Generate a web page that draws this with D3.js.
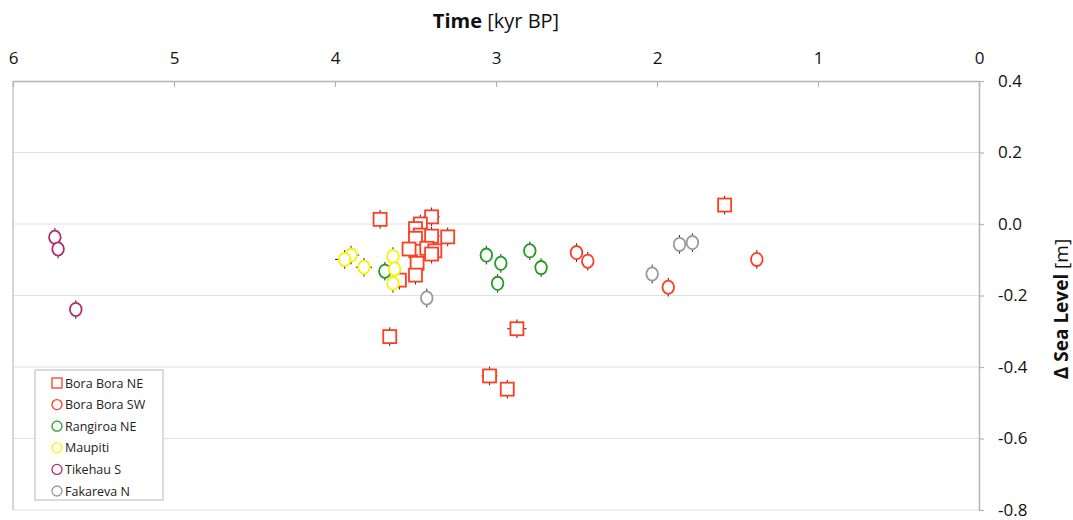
<!DOCTYPE html>
<html>
<head>
<meta charset="utf-8">
<script src="https://d3js.org/d3.v7.min.js"></script>
<style>
  body { margin: 0; background: #fff; }
  text { font-family: "Open Sans", "Liberation Sans", sans-serif; }
</style>
</head>
<body>
<script>
// data: time [kyr BP], sea level [m], time error [kyr]
var series = ["Bora Bora NE", "Bora Bora SW", "Rangiroa NE", "Maupiti", "Tikehau S", "Fakareva N"];
var colors = ["#ff3d24", "#ff3d24", "#239c23", "#f4f400", "#b02e6e", "#9a9a9a"];
var symbols = ["square", "circle", "circle", "circle", "circle", "circle"];

var boraNE_t = [3.72, 3.40, 3.47, 3.50, 3.47, 3.50, 3.40, 3.30, 3.54, 3.43, 3.38, 3.40, 3.49, 3.50, 3.60, 3.66, 2.87, 3.04, 2.93, 1.58];
var boraNE_y = [0.013, 0.020, 0.000, -0.013, -0.031, -0.040, -0.034, -0.036, -0.070, -0.068, -0.075, -0.084, -0.110, -0.143, -0.157, -0.315, -0.293, -0.425, -0.462, 0.053];
var boraNE_te = [0, 0.05, 0, 0, 0, 0, 0.05, 0, 0, 0, 0, 0, 0, 0, 0, 0, 0.06, 0.05, 0, 0];

var boraSW_t = [2.50, 2.43, 1.93, 1.38];
var boraSW_y = [-0.080, -0.104, -0.177, -0.099];
var boraSW_te = [0, 0, 0, 0];

var rangiroa_t = [3.06, 2.97, 2.79, 2.72, 2.99, 3.69];
var rangiroa_y = [-0.087, -0.110, -0.075, -0.122, -0.166, -0.132];
var rangiroa_te = [0, 0, 0, 0, 0, 0];

var maupiti_t = [3.90, 3.94, 3.82, 3.64, 3.63, 3.64];
var maupiti_y = [-0.087, -0.099, -0.121, -0.091, -0.126, -0.166];
var maupiti_te = [0.05, 0.06, 0.05, 0, 0, 0];

var tikehau_t = [5.74, 5.72, 5.61];
var tikehau_y = [-0.037, -0.070, -0.239];
var tikehau_te = [0, 0, 0];

var fakareva_t = [3.43, 2.03, 1.86, 1.78];
var fakareva_y = [-0.207, -0.140, -0.057, -0.052];
var fakareva_te = [0, 0, 0, 0.04];

var yErr = 0.026;

var xTicks = [6, 5, 4, 3, 2, 1, 0];
var yTicks = [0.4, 0.2, 0.0, -0.2, -0.4, -0.6, -0.8];

var allT = [boraNE_t, boraSW_t, rangiroa_t, maupiti_t, tikehau_t, fakareva_t];
var allY = [boraNE_y, boraSW_y, rangiroa_y, maupiti_y, tikehau_y, fakareva_y];
var allTe = [boraNE_te, boraSW_te, rangiroa_te, maupiti_te, tikehau_te, fakareva_te];

// set the dimensions and margins of the graph
var margin = {top: 81, right: 94, bottom: 10, left: 13},
    width = 1073 - margin.left - margin.right,
    height = 520 - margin.top - margin.bottom;

// set the ranges (time runs backwards)
var x = d3.scaleLinear().domain([6, 0]).range([0, width]);
var y = d3.scaleLinear().domain([-0.8, 0.4]).range([height, 0]);

var svg = d3.select("body").append("svg")
    .attr("width", 1073)
    .attr("height", 520)
    .append("g")
    .attr("transform", "translate(" + margin.left + "," + margin.top + ")");

// gridlines
svg.append("g")
    .selectAll("line")
    .data(yTicks.slice(1))
    .enter().append("line")
    .attr("x1", 0).attr("x2", width)
    .attr("y1", function(d) { return y(d); })
    .attr("y2", function(d) { return y(d); })
    .attr("stroke", "#e0e0e0")
    .attr("stroke-width", 1.2);

// left border
svg.append("line")
    .attr("x1", 0).attr("x2", 0)
    .attr("y1", 0).attr("y2", height)
    .attr("stroke", "#c8c8c8")
    .attr("stroke-width", 1.5);

// top axis
var xAxis = svg.append("g")
    .call(d3.axisTop(x).tickValues(xTicks).tickFormat(d3.format("d")).tickSizeInner(-6).tickSizeOuter(0).tickPadding(17));
xAxis.select(".domain").attr("stroke", "#b4b4b4").attr("stroke-width", 1.5);
xAxis.selectAll(".tick line").attr("stroke", "#b4b4b4").attr("stroke-width", 1.2);
xAxis.selectAll(".tick text").style("font-size", "17px").attr("fill", "#111").attr("dy", "0");

// right axis
var yAxis = svg.append("g")
    .attr("transform", "translate(" + width + ",0)")
    .call(d3.axisRight(y).tickValues(yTicks).tickFormat(d3.format(".1f")).tickSizeInner(5).tickSizeOuter(0).tickPadding(14));
yAxis.select(".domain").attr("stroke", "#b4b4b4").attr("stroke-width", 1.5);
yAxis.selectAll(".tick line").attr("stroke", "#b4b4b4").attr("stroke-width", 1.2);
yAxis.selectAll(".tick text").style("font-size", "17px").attr("fill", "#111")
    .text(function(d) { return d3.format(".1f")(d).replace("−", "-"); });

// x axis title
var xt = svg.append("text")
    .attr("x", 483)
    .attr("y", -53)
    .attr("text-anchor", "middle")
    .style("font-size", "20px")
    .attr("fill", "#111");
xt.append("tspan").style("font-weight", "bold").text("Time");
xt.append("tspan").text(" [kyr BP]");

// y axis title
var yt = svg.append("text")
    .attr("transform", "translate(" + (width + 89) + "," + 228 + ") rotate(-90)")
    .attr("text-anchor", "middle")
    .style("font-size", "19px")
    .attr("fill", "#111");
yt.append("tspan").style("font-weight", "bold").text("Δ Sea Level");
yt.append("tspan").text(" [m]");

// points with error bars
series.forEach(function(name, s) {
    var pts = allT[s].map(function(t, i) { return {t: t, v: allY[s][i], te: allTe[s][i]}; });
    var g = svg.append("g");

    g.selectAll(".ey").data(pts).enter().append("line")
        .attr("x1", function(d) { return x(d.t); })
        .attr("x2", function(d) { return x(d.t); })
        .attr("y1", function(d) { return y(d.v + yErr); })
        .attr("y2", function(d) { return y(d.v - yErr); })
        .attr("stroke", "#222").attr("stroke-width", 1);

    g.selectAll(".ex").data(pts.filter(function(d) { return d.te > 0; })).enter().append("line")
        .attr("x1", function(d) { return x(d.t + d.te); })
        .attr("x2", function(d) { return x(d.t - d.te); })
        .attr("y1", function(d) { return y(d.v); })
        .attr("y2", function(d) { return y(d.v); })
        .attr("stroke", "#222").attr("stroke-width", 1);

    if (symbols[s] === "square") {
        g.selectAll(".m").data(pts).enter().append("rect")
            .attr("x", function(d) { return x(d.t) - 6.5; })
            .attr("y", function(d) { return y(d.v) - 6.5; })
            .attr("width", 13).attr("height", 13)
            .attr("fill", "#fff").attr("stroke", colors[s]).attr("stroke-width", 1.8);
    } else {
        g.selectAll(".m").data(pts).enter().append("ellipse")
            .attr("cx", function(d) { return x(d.t); })
            .attr("cy", function(d) { return y(d.v); })
            .attr("rx", 5.8).attr("ry", 6.6)
            .attr("fill", "#fff").attr("stroke", colors[s]).attr("stroke-width", 1.8);
    }
});

// legend
var legend = svg.append("g").attr("transform", "translate(22,289)");
legend.append("rect")
    .attr("width", 128).attr("height", 130)
    .attr("fill", "#fff").attr("stroke", "#d0d0d0").attr("stroke-width", 1.5);

series.forEach(function(name, s) {
    var ly = 13 + s * 21.6;
    if (symbols[s] === "square") {
        legend.append("rect")
            .attr("x", 17).attr("y", ly - 5)
            .attr("width", 10).attr("height", 10)
            .attr("fill", "#fff").attr("stroke", colors[s]).attr("stroke-width", 1.3);
    } else {
        legend.append("circle")
            .attr("cx", 22).attr("cy", ly)
            .attr("r", 5)
            .attr("fill", "#fff").attr("stroke", colors[s]).attr("stroke-width", 1.3);
    }
    legend.append("text")
        .attr("x", 30).attr("y", ly + 4.5)
        .style("font-size", "12.5px")
        .attr("fill", "#222")
        .text(name);
});
</script>
</body>
</html>
